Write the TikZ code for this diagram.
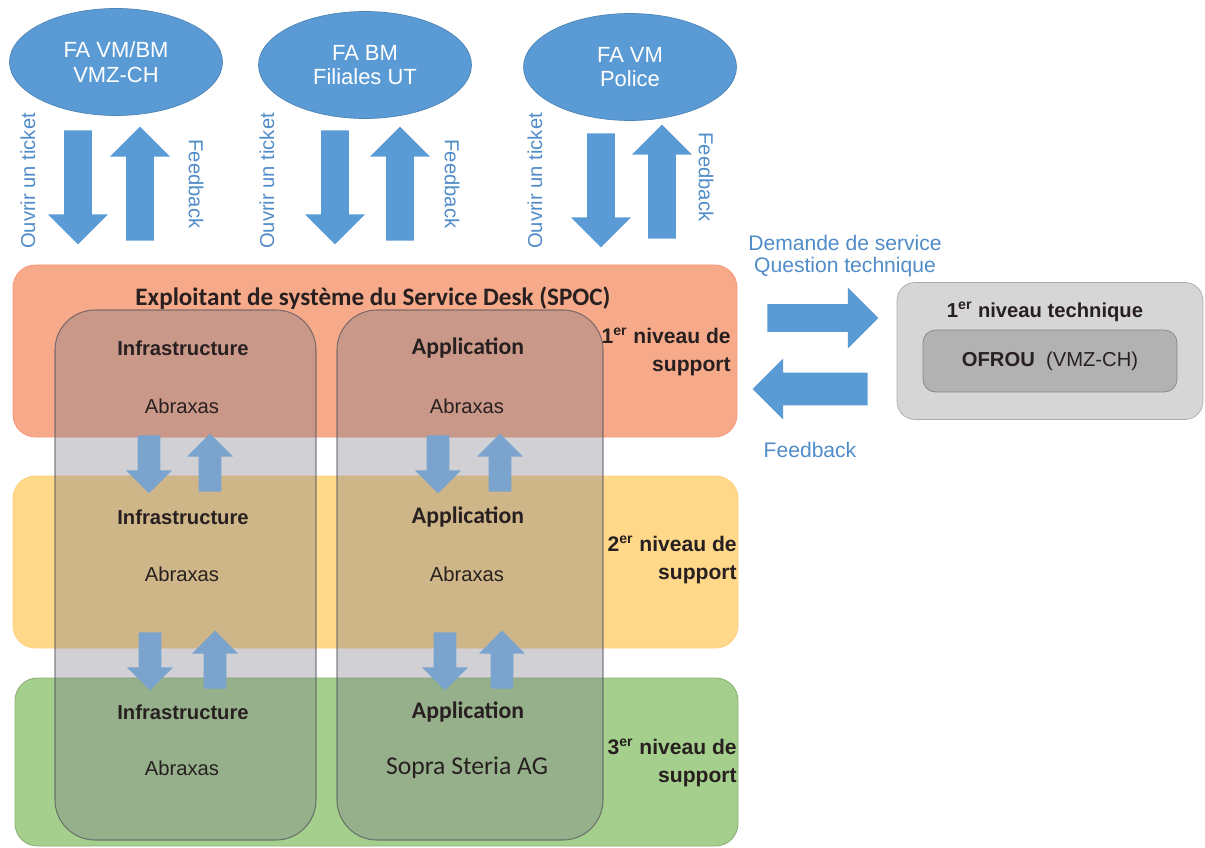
\documentclass[tikz,border=0pt]{standalone}
\usepackage{fontspec}
\setmainfont{Liberation Sans}
\newfontfamily\calibrifont{Carlito}
\usepackage{tikz}
\usetikzlibrary{positioning,shapes.geometric,shapes.arrows}
\definecolor{officeblue}{RGB}{91,155,213}
\definecolor{labelblue}{RGB}{80,140,200}
\definecolor{stepblue}{RGB}{122,163,205}
\definecolor{textdark}{RGB}{40,32,32}
\definecolor{orangeband}{RGB}{247,170,138}
\definecolor{yellowband}{RGB}{255,216,138}
\definecolor{greenband}{RGB}{165,207,140}
\definecolor{towergray}{RGB}{120,120,135}
\definecolor{techgray}{RGB}{214,214,214}
\definecolor{innergray}{RGB}{178,178,178}

\begin{document}
\begin{tikzpicture}[
  x=0.02cm, y=-0.02cm,
  every node/.style={inner sep=0pt, text=textdark, font=\fontsize{11.5}{13.5}\selectfont},
  client/.style={ellipse, fill=officeblue, draw=officeblue!85!black, minimum width=4.26cm,
    minimum height=2.14cm, text=white, align=center, font=\fontsize{12.5}{14}\selectfont},
  bluelabel/.style={text=labelblue, align=center, font=\fontsize{11.5}{13.5}\selectfont},
  blockarrow/.style n args={3}{single arrow, anchor=tail, fill=officeblue, inner sep=#1,
    single arrow head extend=#2, minimum height=#3},
  toparrow/.style={blockarrow={0.27cm}{0.32cm}{2.28cm}},
  steparrow/.style={blockarrow={0.22cm}{0.23cm}{1.16cm}, fill=stepblue},
  bandbox/.style={rounded corners=0.45cm, line width=0.5pt},
  tower/.style={rounded corners=0.8cm, fill=towergray, fill opacity=0.35,
    draw=towergray!70!black, draw opacity=0.7, line width=0.6pt},
  headline/.style={font=\calibrifont\bfseries\fontsize{13.5}{15}\selectfont},
  unitname/.style={font=\bfseries\fontsize{11.5}{13.5}\selectfont},
  supportlevel/.style={anchor=east, align=right, font=\bfseries\fontsize{12}{16}\selectfont},
  techbox/.style={rounded corners=0.36cm, fill=techgray, draw=techgray!80!black,
    minimum width=6.12cm, minimum height=2.74cm}
]
\useasboundingbox (0,0) rectangle (1205,848);

% support levels
\path[bandbox, fill=orangeband, draw=orangeband!90!red] (13,265) rectangle (737,437);
\path[bandbox, fill=yellowband, draw=yellowband!90!orange] (13,476) rectangle (738,648);
\path[bandbox, fill=greenband, draw=greenband!85!black] (15,678) rectangle (738,846);

% infrastructure / application columns
\path[tower] (55,310) rectangle (316,840);
\path[tower] (337,310) rectangle (603,840);

% clients
\node[client] (vmbm) at (116,62) {FA VM/BM\\VMZ-CH};
\node[client] (bm) at (365,65) {FA BM\\Filiales UT};
\node[client] (police) at (630,67) {FA VM\\Police};

\node[toparrow, rotate=-90] (openA) at (78,130) {};
\node[toparrow, rotate=90] (backA) at (140,241) {};
\node[toparrow, rotate=-90] (openB) at (335,130) {};
\node[toparrow, rotate=90] (backB) at (400,241) {};
\node[toparrow, rotate=-90] (openC) at (601,133) {};
\node[toparrow, rotate=90] (backC) at (662,239) {};

\node[bluelabel, rotate=90] (ticketA) at (28,181) {Ouvrir un ticket};
\node[bluelabel, rotate=-90] (feedA) at (196,184) {Feedback};
\node[bluelabel, rotate=90] (ticketB) at (267,181) {Ouvrir un ticket};
\node[bluelabel, rotate=-90] (feedB) at (452,184) {Feedback};
\node[bluelabel, rotate=90] (ticketC) at (535,181) {Ouvrir un ticket};
\node[bluelabel, rotate=-90] (feedC) at (706,177) {Feedback};

% level 1
\node[headline, font=\calibrifont\bfseries\fontsize{14.3}{16}\selectfont] (spoc) at (373,298)
  {Exploitant de système du Service Desk (SPOC)};
\node[unitname] (infraA) at (183,348) {Infrastructure};
\node (infraAco) at (182,406) {Abraxas};
\node[headline] (appA) at (468,348) {Application};
\node (appAco) at (467,406) {Abraxas};
\node[supportlevel] (levelA) at (731,352) {1\textsuperscript{er} niveau de\\support};

\node[steparrow, rotate=-90] (infraDownA) at (149,435) {};
\node[steparrow, rotate=90] (infraUpA) at (210,492) {};
\node[steparrow, rotate=-90] (appDownA) at (438,435) {};
\node[steparrow, rotate=90] (appUpA) at (500,492) {};

% level 2
\node[unitname] (infraB) at (183,517) {Infrastructure};
\node (infraBco) at (182,574) {Abraxas};
\node[headline] (appB) at (468,517) {Application};
\node (appBco) at (467,574) {Abraxas};
\node[supportlevel] (levelB) at (737,560) {2\textsuperscript{er} niveau de\\support};

\node[steparrow, rotate=-90] (infraDownB) at (150,632) {};
\node[steparrow, rotate=90] (infraUpB) at (215,689) {};
\node[steparrow, rotate=-90] (appDownB) at (445,632) {};
\node[steparrow, rotate=90] (appUpB) at (502,689) {};

% level 3
\node[unitname] (infraC) at (183,712) {Infrastructure};
\node (infraCco) at (182,768) {Abraxas};
\node[headline] (appC) at (468,712) {Application};
\node[font=\calibrifont\fontsize{14.6}{16}\selectfont] (appCco) at (467,768) {Sopra Steria AG};
\node[supportlevel] (levelC) at (737,763) {3\textsuperscript{er} niveau de\\support};

% technical level
\node[bluelabel, font=\fontsize{12}{12.5}\selectfont] (request) at (845,256)
  {Demande de service\\Question technique};
\node[blockarrow={0.27cm}{0.33cm}{2.22cm}] (toTech) at (767,318) {};
\node[blockarrow={0.32cm}{0.28cm}{2.3cm}, rotate=180] (fromTech) at (868,389) {};
\node[bluelabel, font=\fontsize{12}{14}\selectfont] (techFeed) at (810,450) {Feedback};

\node[techbox] (tech) at (1050,351) {};
\node[unitname] (techTitle) at (1045,312) {1\textsuperscript{er} niveau technique};
\node[rounded corners=0.25cm, fill=innergray, draw=innergray!75!black, minimum width=5.08cm,
  minimum height=1.24cm, font=\fontsize{11.5}{13.5}\selectfont] (ofrou) at (1050,361)
  {\textbf{OFROU}\ \ (VMZ-CH)};
\end{tikzpicture}
\end{document}
